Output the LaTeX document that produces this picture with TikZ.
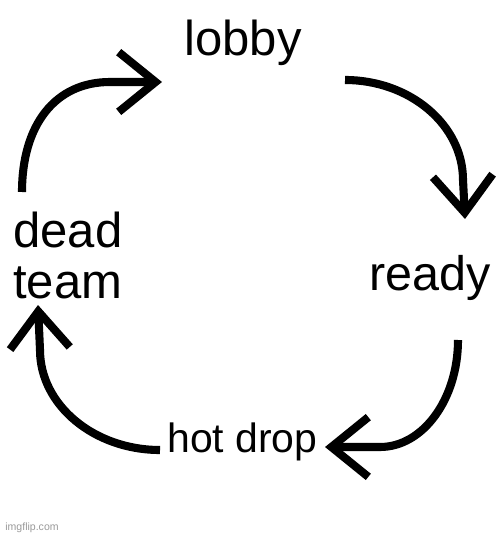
\documentclass[tikz,border=0pt]{standalone}
\usepackage{fontspec}
\setmainfont{Liberation Sans}
\usetikzlibrary{arrows.meta}

\definecolor{Stroke}{HTML}{000000}
\definecolor{Mark}{HTML}{9A9A9A}

\begin{document}
\begin{tikzpicture}[x=0.02cm, y=-0.02cm,
  cyc/.style={line width=4.6pt, color=Stroke, -{Straight Barb[length=21pt, width=34pt]}},
  word/.style={anchor=base west, inner sep=0pt, align=left}]

 \useasboundingbox [fill=white] (0,0) rectangle (500,536);

  %%%%%%%%%% Points pour les fleches %%%%%%%%%%

 \coordinate (s1) at (22,192);
 \coordinate (e1) at (162,82);
 \coordinate (s2) at (345,80);
 \coordinate (e2) at (465,219);
 \coordinate (s3) at (458,340);
 \coordinate (e3) at (325,447);
 \coordinate (s4) at (160,450);
 \coordinate (e4) at (38,305);

 %%%%%%%%%% The words %%%%%%%%%%
 \node [word, font=\fontsize{27.9}{28.5}\selectfont] (lobby) at (184,56) {lobby};
 \node [word, font=\fontsize{27.6}{28.5}\selectfont] (ready) at (369,290) {ready};
 \node [word, font=\fontsize{23.3}{28}\selectfont] (hotdrop) at (167,452) {hot drop};
 \node [word, font=\fontsize{27.9}{28.5}\selectfont] (deadteam) at (13,298) {dead\\team};

 %%%%%%%%%%% The cycle %%%%%%%%%%%
 \draw [cyc] (s1) .. controls (22,125) and (55,82) .. (110,82) -- (e1) ;
 \draw [cyc] (s2) .. controls (410,80) and (463,125) .. (463,180) -- (e2) ;
 \draw [cyc] (s3) .. controls (458,399) and (423,447) .. (380,447) -- (e3) ;
 \draw [cyc] (s4) .. controls (94,450) and (40,405) .. (40,350) -- (e4) ;

 %%%%%%%%%%% Watermark %%%%%%%%%%%
 \node [word, font=\fontsize{6}{7}\selectfont, color=Mark] (imgflip) at (5,530) {imgflip.com};

\end{tikzpicture}
\end{document}
